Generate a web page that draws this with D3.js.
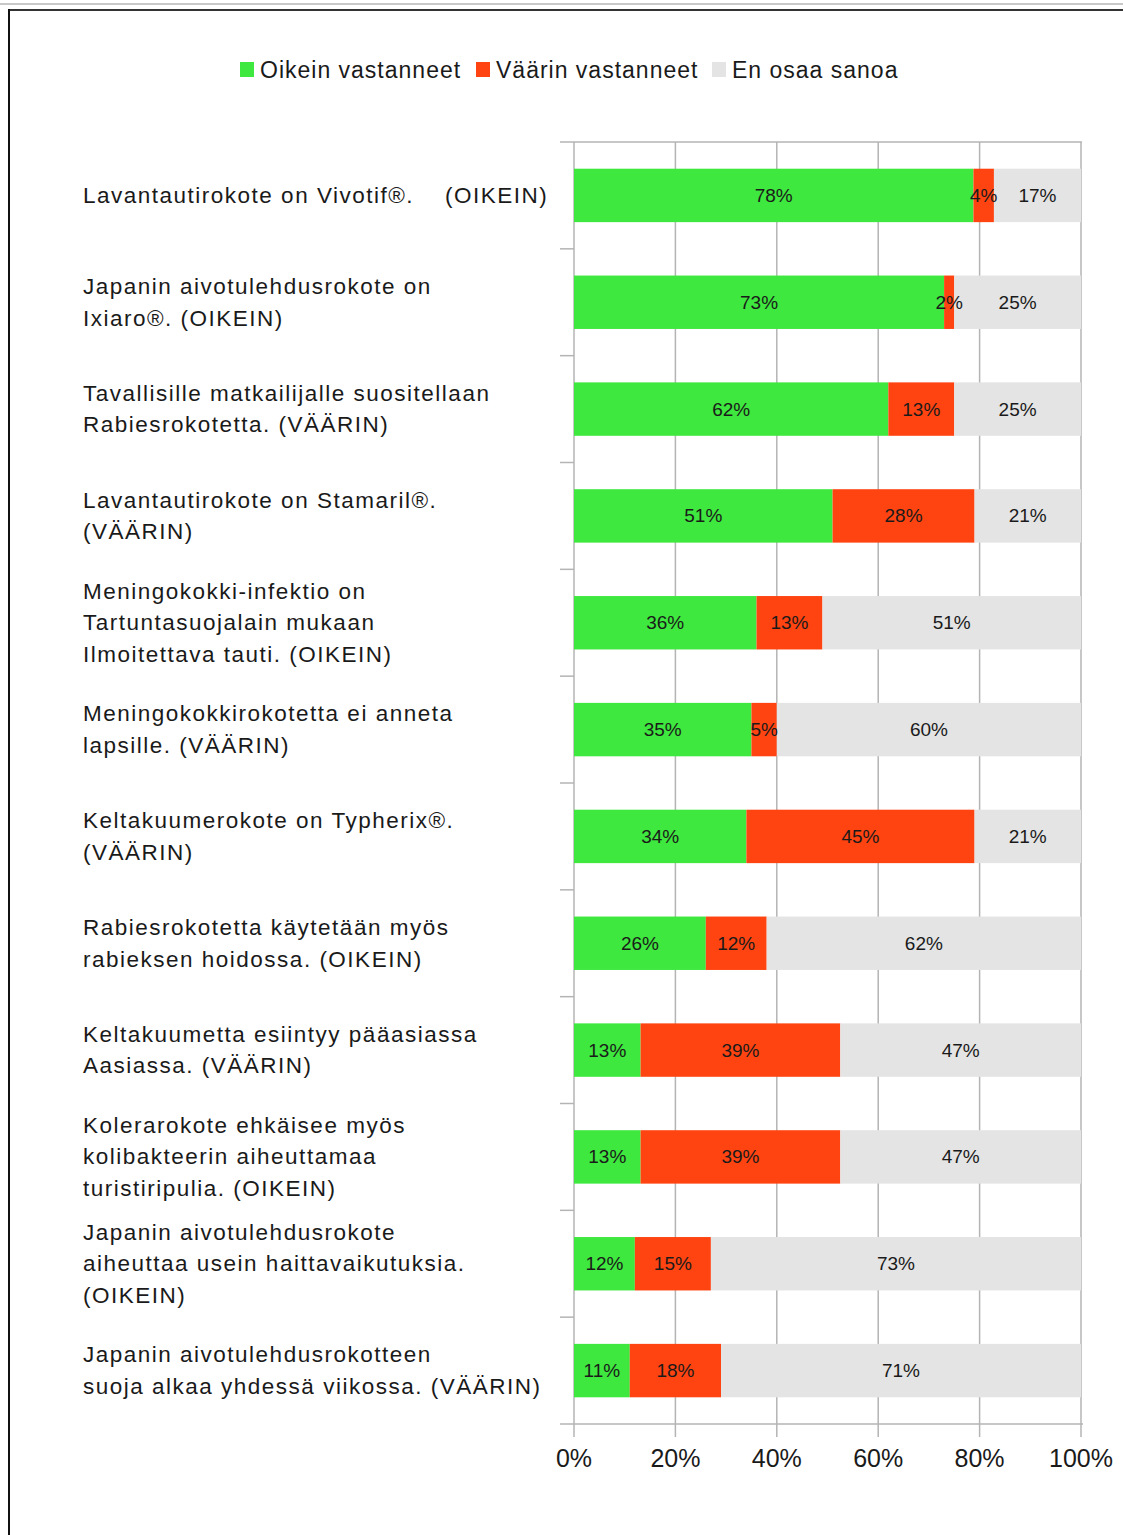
<!DOCTYPE html>
<html>
<head>
<meta charset="utf-8">
<script src="https://cdn.jsdelivr.net/npm/d3@7"></script>
<style>
  body { margin: 0; background: #fff; }
  svg text { font-family: "Liberation Sans", Arial, sans-serif; fill: #1a1a1a; }
</style>
</head>
<body>
<div id="chart"></div>
<script>
// questions, each one split into the lines shown in the chart
const questions = [
  ["Lavantautirokote on Vivotif®.    (OIKEIN)"],
  ["Japanin aivotulehdusrokote on", "Ixiaro®. (OIKEIN)"],
  ["Tavallisille matkailijalle suositellaan", "Rabiesrokotetta. (VÄÄRIN)"],
  ["Lavantautirokote on Stamaril®.", "(VÄÄRIN)"],
  ["Meningokokki-infektio on", "Tartuntasuojalain mukaan", "Ilmoitettava tauti. (OIKEIN)"],
  ["Meningokokkirokotetta ei anneta", "lapsille. (VÄÄRIN)"],
  ["Keltakuumerokote on Typherix®.", "(VÄÄRIN)"],
  ["Rabiesrokotetta käytetään myös", "rabieksen hoidossa. (OIKEIN)"],
  ["Keltakuumetta esiintyy pääasiassa", "Aasiassa. (VÄÄRIN)"],
  ["Kolerarokote ehkäisee myös", "kolibakteerin aiheuttamaa", "turistiripulia. (OIKEIN)"],
  ["Japanin aivotulehdusrokote", "aiheuttaa usein haittavaikutuksia.", "(OIKEIN)"],
  ["Japanin aivotulehdusrokotteen", "suoja alkaa yhdessä viikossa. (VÄÄRIN)"]
]
const oikein = [78, 73, 62, 51, 36, 35, 34, 26, 13, 13, 12, 11]
const vaarin = [4, 2, 13, 28, 13, 5, 45, 12, 39, 39, 15, 18]
const enOsaa = [17, 25, 25, 21, 51, 60, 21, 62, 47, 47, 73, 71]

const seriesNames = ["Oikein vastanneet", "Väärin vastanneet", "En osaa sanoa"]
const seriesKeys = ["oikein", "vaarin", "enOsaa"]
const seriesColors = ["#3ee83e", "#ff4411", "#e4e4e4"]
const xTicks = [0, 0.2, 0.4, 0.6, 0.8, 1]

const W = 1123, H = 1535
const plot = { left: 574, right: 1081, top: 142, bottom: 1424 }

const rows = questions.map((q, i) => ({
  id: i, lines: q, oikein: oikein[i], vaarin: vaarin[i], enOsaa: enOsaa[i]
}))

const svg = d3.select("#chart").append("svg")
  .attr("width", W).attr("height", H)

// page frame
svg.append("line").attr("x1", 0).attr("x2", W).attr("y1", 4).attr("y2", 4)
  .attr("stroke", "#c8c8c8").attr("stroke-width", 2)
svg.append("line").attr("x1", 8).attr("x2", W).attr("y1", 10).attr("y2", 10)
  .attr("stroke", "#333").attr("stroke-width", 2)
svg.append("line").attr("x1", 9).attr("x2", 9).attr("y1", 9).attr("y2", H)
  .attr("stroke", "#111").attr("stroke-width", 2)

const x = d3.scaleLinear().domain([0, 1]).range([plot.left, plot.right])
const y = d3.scaleBand().domain(rows.map(d => d.id))
  .range([plot.top, plot.bottom]).paddingInner(0.5).paddingOuter(0.25)
const yCat = d3.scaleBand().domain(rows.map(d => d.id)).range([plot.top, plot.bottom])
const color = d3.scaleOrdinal().domain(seriesKeys).range(seriesColors)

const stacked = d3.stack().keys(seriesKeys).offset(d3.stackOffsetExpand)(rows)

// grid
const grid = svg.append("g")
grid.selectAll("line.v").data(xTicks).join("line")
  .attr("x1", d => x(d)).attr("x2", d => x(d))
  .attr("y1", plot.top).attr("y2", plot.bottom + 13)
  .attr("stroke", "#b4b4b4").attr("stroke-width", 1.5)
grid.append("line").attr("x1", plot.left - 14).attr("x2", plot.right + 1)
  .attr("y1", plot.top).attr("y2", plot.top)
  .attr("stroke", "#b4b4b4").attr("stroke-width", 1.5)
grid.selectAll("line.h").data(rows.slice(1)).join("line")
  .attr("x1", plot.left - 14).attr("x2", plot.left)
  .attr("y1", d => yCat(d.id)).attr("y2", d => yCat(d.id))
  .attr("stroke", "#b4b4b4").attr("stroke-width", 1.5)

// bars
const layer = svg.append("g").selectAll("g").data(stacked).join("g")
  .attr("fill", d => color(d.key))
layer.selectAll("rect").data(d => d).join("rect")
  .attr("x", d => x(d[0]))
  .attr("width", d => x(d[1]) - x(d[0]))
  .attr("y", d => y(d.data.id))
  .attr("height", y.bandwidth())

// value labels
svg.append("g").selectAll("g").data(stacked).join("g")
  .selectAll("text").data(d => d.map(v => ({ v, key: d.key }))).join("text")
  .attr("x", d => (x(d.v[0]) + x(d.v[1])) / 2)
  .attr("y", d => y(d.v.data.id) + y.bandwidth() / 2)
  .attr("text-anchor", "middle").attr("dominant-baseline", "central")
  .attr("font-size", 19)
  .text(d => d.v.data[d.key] + "%")

// bottom axis line
svg.append("line").attr("x1", plot.left - 14).attr("x2", plot.right + 2)
  .attr("y1", plot.bottom).attr("y2", plot.bottom)
  .attr("stroke", "#b4b4b4").attr("stroke-width", 1.5)

svg.append("g").selectAll("text").data(xTicks).join("text")
  .attr("x", d => x(d)).attr("y", plot.bottom + 34)
  .attr("text-anchor", "middle").attr("dominant-baseline", "central")
  .attr("font-size", 25)
  .text(d3.format(".0%"))

// category labels
const lineH = 31.5
const lab = svg.append("g").selectAll("text").data(rows).join("text")
  .attr("x", 83)
  .attr("font-size", 22.5)
  .attr("letter-spacing", 1.5)
  .attr("xml:space", "preserve")
  .style("white-space", "pre")
lab.selectAll("tspan").data(d => d.lines.map((l, i) => ({ l, i, n: d.lines.length, id: d.id }))).join("tspan")
  .attr("x", 83)
  .attr("y", d => yCat(d.id) + yCat.bandwidth() / 2 + (d.i - (d.n - 1) / 2) * lineH)
  .attr("dominant-baseline", "central")
  .text(d => d.l)

// legend
const legendX = [240, 476, 712]
const legend = svg.append("g").selectAll("g").data(seriesKeys).join("g")
  .attr("transform", (d, i) => `translate(${legendX[i]},70)`)
legend.append("rect").attr("x", 0).attr("y", -8).attr("width", 14).attr("height", 15)
  .attr("fill", d => color(d))
legend.append("text").attr("x", 20).attr("y", 0)
  .attr("dominant-baseline", "central").attr("font-size", 23)
  .attr("letter-spacing", 1)
  .text((d, i) => seriesNames[i])
</script>
</body>
</html>
